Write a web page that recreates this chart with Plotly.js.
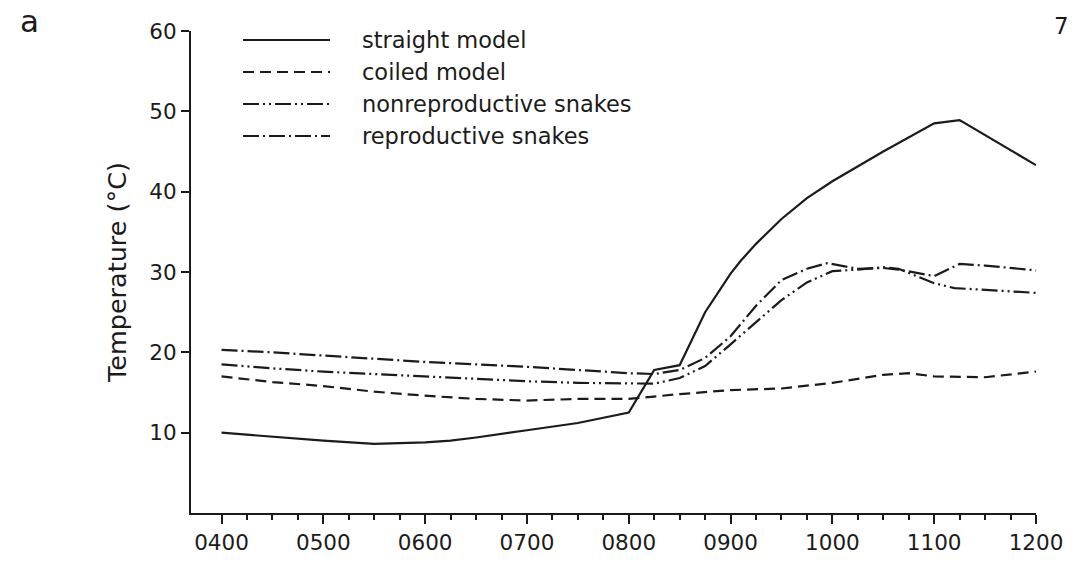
<!DOCTYPE html>
<html><head><meta charset="utf-8">
<script src="https://cdn.plot.ly/plotly-3.0.1.min.js"></script>
<style>html,body{margin:0;padding:0;background:#fff}#chart{width:1075px;height:564px}</style>
</head><body><div id="chart"></div>
<script>
// ---- data (hours as decimal, temperature in °C) ----
const seriesNames = ["straight model", "coiled model", "nonreproductive snakes", "reproductive snakes"];

const straightHours = [4.0,4.5,5.0,5.5,6.0,6.25,6.5,7.0,7.5,8.0,8.25,8.5,8.75,9.0,9.1,9.25,9.5,9.75,10.0,10.5,11.0,11.25,11.5,12.0];
const straightTemps = [10.0,9.5,9.0,8.6,8.8,9.0,9.4,10.3,11.2,12.5,17.8,18.4,25.0,29.8,31.4,33.5,36.6,39.2,41.3,45.0,48.5,48.9,47.0,43.3];

const coiledHours = [4.0,4.5,5.0,5.5,6.0,6.5,7.0,7.5,8.0,8.5,9.0,9.5,10.0,10.5,10.75,11.0,11.5,12.0];
const coiledTemps = [17.0,16.3,15.8,15.1,14.6,14.2,14.0,14.2,14.2,14.8,15.3,15.5,16.2,17.2,17.4,17.0,16.9,17.6];

const nonreproHours = [4.0,4.5,5.0,5.5,6.0,6.5,7.0,7.5,8.0,8.25,8.5,8.75,9.0,9.25,9.5,9.75,10.0,10.25,10.5,10.65,11.0,11.2,11.5,12.0];
const nonreproTemps = [18.5,18.0,17.6,17.3,17.0,16.7,16.4,16.2,16.1,16.1,16.8,18.3,21.0,23.8,26.5,28.7,30.1,30.3,30.6,30.4,28.6,28.0,27.8,27.4];

const reproHours = [4.0,4.5,5.0,5.5,6.0,6.5,7.0,7.5,8.0,8.25,8.5,8.75,9.0,9.25,9.5,9.75,9.95,10.25,10.5,10.65,11.0,11.25,11.5,12.0];
const reproTemps = [20.3,20.0,19.6,19.2,18.8,18.5,18.2,17.8,17.4,17.3,17.8,19.3,22.0,25.8,29.0,30.4,31.1,30.4,30.5,30.3,29.5,31.0,30.8,30.2];

const xTickVals = [4,5,6,7,8,9,10,11,12];
const xTickText = ["0400","0500","0600","0700","0800","0900","1000","1100","1200"];
const yTickVals = [10,20,30,40,50,60];
const yTickText = ["10","20","30","40","50","60"];

// ---- styling ----
const ink = "#1b1b1b";
const FONT = "DejaVu Sans, sans-serif";
const dashes = ["solid", "11px,6px", "16px,4px,2px,4px,2px,4px", "16px,4px,2px,4px"];
const xs = [straightHours, coiledHours, nonreproHours, reproHours];
const ys = [straightTemps, coiledTemps, nonreproTemps, reproTemps];

const traces = seriesNames.map((n, i) => ({
  x: xs[i], y: ys[i], name: n, type: "scatter", mode: "lines",
  line: {color: ink, width: 2.2, dash: dashes[i]}, showlegend: false,
  hoverinfo: "skip"
}));

// minor ticks every 15 min between hour ticks
const minorVals = [];
for (let h = 4; h < 12; h++) { minorVals.push(h + 0.25, h + 0.5, h + 0.75); }

// custom legend with long line samples
const L = 191, W = 845, B = 513, H = 482;
const px = v => (v - L) / W;
const py = v => (B - v) / H;
const legendRows = [40, 72, 104, 136];
const shapes = [], annotations = [];
seriesNames.forEach((n, i) => {
  shapes.push({type: "line", xref: "paper", yref: "paper",
    x0: px(243), x1: px(330), y0: py(legendRows[i]), y1: py(legendRows[i]),
    line: {color: ink, width: 2, dash: dashes[i]}});
  annotations.push({text: n, xref: "paper", yref: "paper", x: px(360), y: py(legendRows[i]),
    xanchor: "left", yanchor: "middle", showarrow: false,
    font: {family: FONT, size: 22.5, color: ink}});
});
annotations.push({text: "a", xref: "paper", yref: "paper", x: px(18), y: py(1),
  xanchor: "left", yanchor: "top", showarrow: false, font: {family: FONT, size: 31, color: ink}});
annotations.push({text: "7", xref: "paper", yref: "paper", x: px(1052), y: py(26),
  xanchor: "left", yanchor: "middle", showarrow: false, font: {family: FONT, size: 23, color: ink}});

const layout = {
  width: 1075, height: 564,
  margin: {l: 191, r: 39, t: 31, b: 51, pad: 0},
  paper_bgcolor: "#ffffff", plot_bgcolor: "#ffffff",
  font: {family: FONT, color: ink, size: 21},
  showlegend: false,
  xaxis: {
    range: [3.7, 12.0], showgrid: false, zeroline: false,
    showline: true, linecolor: ink, linewidth: 2,
    ticks: "outside", ticklen: 9, tickwidth: 2, tickcolor: ink,
    tickmode: "array", tickvals: xTickVals, ticktext: xTickText,
    tickfont: {family: FONT, size: 21.5, color: ink},
    minor: {tickmode: "array", tickvals: minorVals, ticks: "outside", ticklen: 5, tickwidth: 2, tickcolor: ink, showgrid: false}
  },
  yaxis: {
    range: [0, 60], showgrid: false, zeroline: false,
    showline: true, linecolor: ink, linewidth: 2,
    ticks: "outside", ticklen: 8, tickwidth: 2, tickcolor: ink,
    tickmode: "array", tickvals: yTickVals, ticktext: yTickText,
    tickfont: {family: FONT, size: 21.5, color: ink},
    title: {text: "Temperature (°C)", font: {family: FONT, size: 25.5, color: ink}, standoff: 15}
  },
  shapes: shapes,
  annotations: annotations
};

Plotly.newPlot("chart", traces, layout, {displayModeBar: false, staticPlot: true});
</script>
</body></html>
